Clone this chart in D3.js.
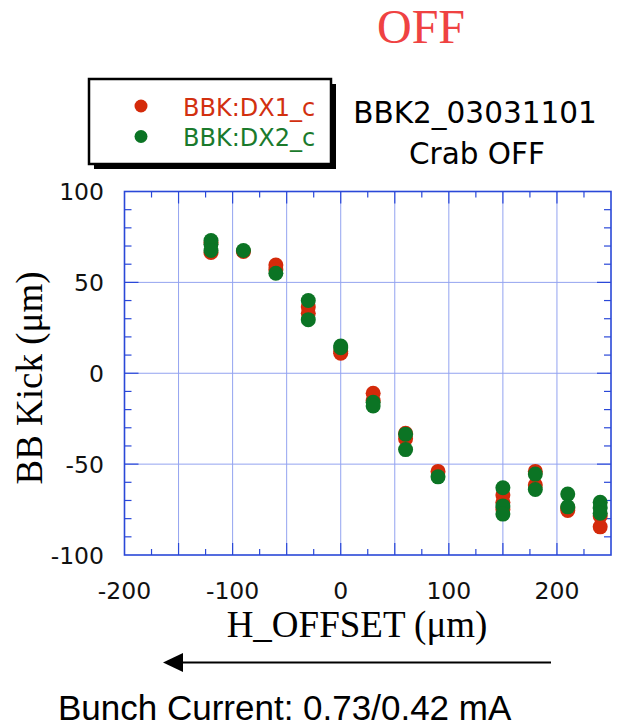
<!DOCTYPE html>
<html>
<head>
<meta charset="utf-8">
<script src="https://cdn.jsdelivr.net/npm/d3@7"></script>
<style>
  html, body { margin: 0; padding: 0; background: #fff; }
  svg { display: block; }
</style>
</head>
<body>
<svg id="chart" width="623" height="728"></svg>
<script>
// Beam-beam kick vs horizontal offset, two pickups
const dx1X = [-120, -120, -90, -60, -60, -30, -30, 0, 0, 30, 30, 60, 60, 90, 150, 150, 150, 180, 180, 210, 210, 240, 240];
const dx1Y = [72, 66.5, 67, 59.5, 57, 36.5, 33, 11, 12, -11, -15, -33, -36, -54, -67, -71, -75, -54, -61.5, -74, -75.5, -78.5, -84.5];
const dx2X = [-120, -120, -120, -90, -60, -30, -30, 0, 0, 30, 30, 60, 60, 90, 150, 150, 150, 180, 180, 210, 210, 240, 240, 240];
const dx2Y = [73, 71, 67.5, 67.5, 55, 40, 29.5, 15, 14, -16, -18, -33.5, -42, -57, -63, -73, -77.5, -55.5, -64, -66.5, -73.5, -71, -74, -77];

const xTickValues = [-200, -100, 0, 100, 200];
const yTickValues = [-100, -50, 0, 50, 100];
const seriesNames = ["BBK:DX1_c", "BBK:DX2_c"];
const seriesColors = ["#d42a0a", "#0b7424"];
const legendTextColors = ["#d2300f", "#1a7a2c"];

const svg = d3.select("#chart");
const plot = { left: 124.5, right: 611, top: 191.5, bottom: 555 };

const x = d3.scaleLinear().domain([-200, 250]).range([plot.left, plot.right]);
const y = d3.scaleLinear().domain([-100, 100]).range([plot.bottom, plot.top]);

const frameColor = "#2a48d8";
const gridColor = "#93a3f0";

// grid lines every 50 in both directions
const g = svg.append("g");
g.selectAll(".gx").data(d3.range(-150, 250, 50)).join("line")
  .attr("x1", d => x(d)).attr("x2", d => x(d))
  .attr("y1", plot.top).attr("y2", plot.bottom)
  .attr("stroke", gridColor).attr("stroke-width", 1);
g.selectAll(".gy").data(d3.range(-50, 100, 50)).join("line")
  .attr("x1", plot.left).attr("x2", plot.right)
  .attr("y1", d => y(d)).attr("y2", d => y(d))
  .attr("stroke", gridColor).attr("stroke-width", 1);

// inward ticks on all four sides
const xMinor = d3.range(-175, 250, 25);
const ticks = svg.append("g").attr("stroke", frameColor).attr("stroke-width", 1.2);
xMinor.forEach(v => {
  const len = (v % 50 === 0) ? 12 : 6;
  ticks.append("line").attr("x1", x(v)).attr("x2", x(v)).attr("y1", plot.bottom).attr("y2", plot.bottom - len);
  ticks.append("line").attr("x1", x(v)).attr("x2", x(v)).attr("y1", plot.top).attr("y2", plot.top + len);
});
d3.range(-90, 100, 10).forEach(v => {
  const len = (v % 50 === 0) ? 14 : 7;
  ticks.append("line").attr("y1", y(v)).attr("y2", y(v)).attr("x1", plot.left).attr("x2", plot.left + len);
  ticks.append("line").attr("y1", y(v)).attr("y2", y(v)).attr("x1", plot.right).attr("x2", plot.right - len);
});

// frame
svg.append("rect")
  .attr("x", plot.left).attr("y", plot.top)
  .attr("width", plot.right - plot.left).attr("height", plot.bottom - plot.top)
  .attr("fill", "none").attr("stroke", frameColor).attr("stroke-width", 1.6);

// tick labels
const tickFont = "'DejaVu Sans', sans-serif";
svg.append("g").selectAll("text").data(xTickValues).join("text")
  .attr("x", d => x(d)).attr("y", 599)
  .attr("text-anchor", "middle")
  .attr("font-family", tickFont).attr("font-size", 23.5).attr("fill", "#111")
  .text(d => d);
svg.append("g").selectAll("text").data(yTickValues).join("text")
  .attr("x", 104).attr("y", d => y(d) + 8.5)
  .attr("text-anchor", "end")
  .attr("font-family", tickFont).attr("font-size", 23.5).attr("fill", "#111")
  .text(d => d);

// axis titles
const serif = "'Liberation Serif', 'Times New Roman', serif";
svg.append("text")
  .attr("x", 357).attr("y", 637)
  .attr("text-anchor", "middle")
  .attr("font-family", serif).attr("font-size", 37).attr("fill", "#000")
  .text("H_OFFSET (μm)");
svg.append("text")
  .attr("transform", "translate(42,378) rotate(-90)")
  .attr("text-anchor", "middle")
  .attr("font-family", serif).attr("font-size", 37).attr("fill", "#000")
  .text("BB Kick (μm)");

// data points: DX1 first, DX2 drawn on top
const series = [
  dx1X.map((v, i) => ({ x: v, y: dx1Y[i] })),
  dx2X.map((v, i) => ({ x: v, y: dx2Y[i] }))
];
series.forEach((pts, si) => {
  svg.append("g").selectAll("circle").data(pts).join("circle")
    .attr("cx", d => x(d.x)).attr("cy", d => y(d.y))
    .attr("r", 7.5)
    .attr("fill", seriesColors[si]);
});

// title
svg.append("text")
  .attr("x", 421).attr("y", 43)
  .attr("text-anchor", "middle")
  .attr("font-family", serif).attr("font-size", 48).attr("fill", "#ef4242")
  .text("OFF");

// legend box with drop shadow
svg.append("rect").attr("x", 94).attr("y", 84).attr("width", 242).attr("height", 85).attr("fill", "#000");
svg.append("rect").attr("x", 89).attr("y", 79).attr("width", 242).attr("height", 85)
  .attr("fill", "#fff").attr("stroke", "#000").attr("stroke-width", 2.5);
seriesNames.forEach((name, i) => {
  const cy = 106 + i * 30.5;
  svg.append("circle").attr("cx", 141).attr("cy", cy).attr("r", 6.5).attr("fill", seriesColors[i]);
  svg.append("text")
    .attr("x", 183).attr("y", cy + 9.5)
    .attr("font-family", tickFont).attr("font-size", 24).attr("fill", legendTextColors[i])
    .text(name);
});

// run label
svg.append("text")
  .attr("x", 475).attr("y", 123)
  .attr("text-anchor", "middle")
  .attr("font-family", tickFont).attr("font-size", 29.5).attr("fill", "#000")
  .text("BBK2_03031101");
svg.append("text")
  .attr("x", 477).attr("y", 164)
  .attr("text-anchor", "middle")
  .attr("font-family", tickFont).attr("font-size", 29.5).attr("fill", "#000")
  .text("Crab OFF");

// direction arrow
svg.append("line")
  .attr("x1", 180).attr("x2", 551).attr("y1", 662.5).attr("y2", 662.5)
  .attr("stroke", "#000").attr("stroke-width", 2);
svg.append("path")
  .attr("d", d3.line()([[163, 662.5], [183, 653], [183, 672]]) + "Z")
  .attr("fill", "#000");

// footer
svg.append("text")
  .attr("x", 58).attr("y", 720)
  .attr("font-family", "'Liberation Sans', Arial, sans-serif").attr("font-size", 35).attr("fill", "#000")
  .text("Bunch Current: 0.73/0.42 mA");
</script>
</body>
</html>
